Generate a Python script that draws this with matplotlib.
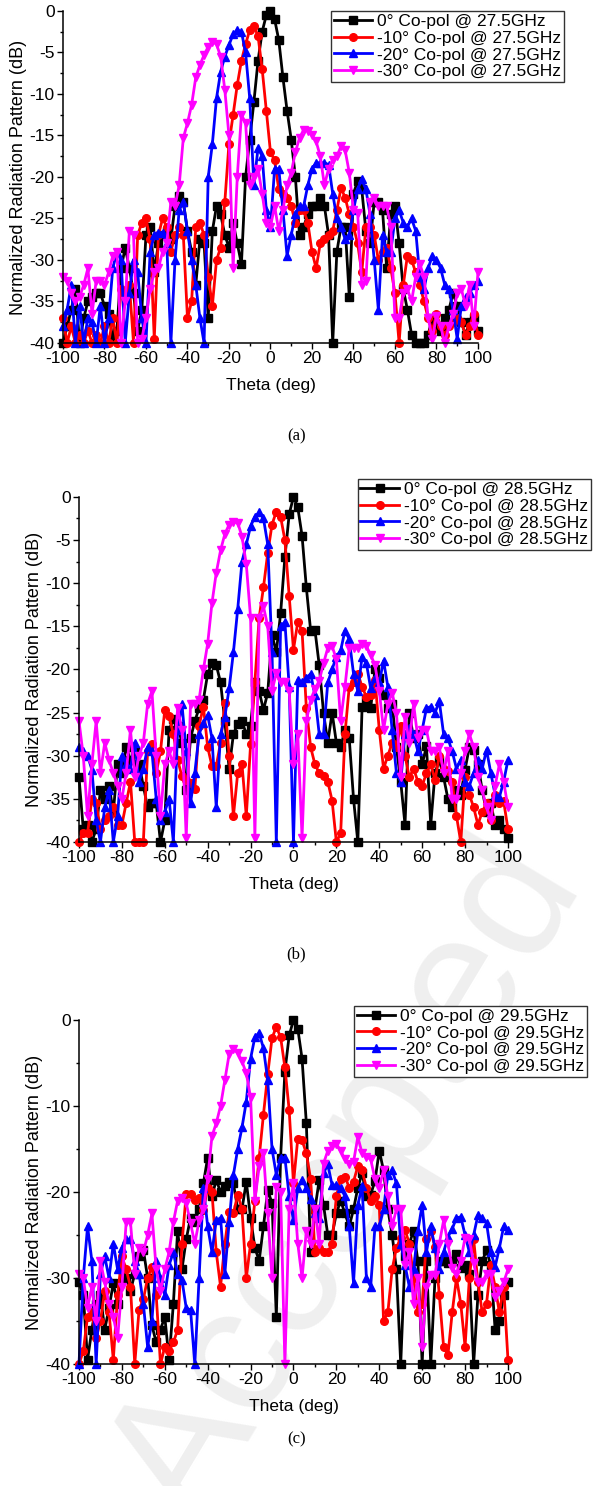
import numpy as np
import matplotlib
matplotlib.use('Agg')
import matplotlib.pyplot as plt
from matplotlib.ticker import MultipleLocator

plt.rcParams['font.family'] = ['Liberation Sans', 'DejaVu Sans']
plt.rcParams['axes.unicode_minus'] = False

theta = np.arange(-100, 101, 2)

# ---- 27.5 GHz ----
a_0 = [-40, -38, -36, -33.5, -40, -37, -35, -34.5, -34, -34,
       -35.5, -36.5, -39.5, -38.5, -31, -28.5, -31, -34, -38.5, -36,
       -27, -26, -31.5, -28, -27, -26.5, -27.5, -23.5, -22.3, -23,
       -26.5, -29, -33, -27.5, -28, -37, -26.5, -23.5, -24.5, -27,
       -28.5, -25.5, -28, -30.5, -20, -15.5, -11, -6, -2.5, -0.5,
       0,
       -1, -3.5, -8, -12, -15.5, -20, -27, -26, -24.5, -23.5,
       -23.5, -22.5, -23.5, -27, -40, -29, -26, -26, -34.5, -22,
       -20.5, -21.5, -26.5, -28, -23, -23, -24, -31, -24.5, -23.5,
       -28, -33.5, -36, -39, -40, -40, -40, -39, -37, -38,
       -38.5, -37, -36, -34, -35.5, -37.5, -39, -37.5, -37, -38.5]
a_10 = [-37, -40, -38, -40, -39, -40, -38.5, -40, -39, -40,
        -38, -40, -37, -40, -33.5, -34, -33, -40, -27, -25.5,
        -25, -27.5, -39.5, -27, -25, -26, -29, -27, -26, -27,
        -37, -35, -26, -25.5, -27, -32, -35.5, -30, -28.5, -23,
        -16, -12.5, -8.9, -6, -4, -2.3, -1.8, -3, -7, -12,
        -17,
        -18, -21.5, -22, -22.5, -23.5, -25.5, -24, -24, -25.5, -29,
        -31, -28, -27.5, -27, -26.5, -24, -21.3, -22.5, -24.5, -26,
        -28, -31.5, -26, -26, -27, -30, -29, -28.5, -31, -34,
        -40, -33, -29.5, -30, -31.5, -33, -35, -37, -38.5, -36.5,
        -38, -39, -38, -37.5, -37, -37.5, -39, -38, -36.5, -39]
a_20 = [-38, -36, -33, -40, -35.5, -40, -37, -37.5, -40, -35.5,
        -40, -37, -31, -29, -30, -40, -34, -30, -31.5, -37,
        -40, -29, -27, -26.7, -26.7, -28, -40, -30, -24, -23,
        -26.5, -30, -33, -37, -40, -20, -16, -10.5, -7.3, -5.5,
        -4.1, -2.8, -2.3, -2.5, -5, -10.5, -21, -16.5, -17.5, -24,
        -26,
        -19, -19, -24, -29.5, -27, -24.5, -23.5, -23.5, -21, -19,
        -18.3, -18.3, -18.3, -18.5, -22, -25, -26, -27.5, -27, -24,
        -21.5, -20.3, -21.5, -24.5, -30, -36, -27, -29, -29, -25,
        -24, -25.5, -26, -25, -26.5, -32, -33.5, -31, -29.5, -30,
        -31, -33, -33.5, -36, -39.5, -35.5, -34.5, -34, -33, -32.5]
a_30 = [-32, -32.5, -34, -35, -34.5, -33, -31, -36.5, -32.5, -32.5,
        -33, -31.5, -29.5, -29, -40, -35, -26.5, -27, -40, -39.5,
        -37, -33.5, -31.5, -31, -29, -28, -23, -23.5, -21, -15.3,
        -13.5, -11.3, -8, -6.5, -5.3, -4.3, -3.7, -4, -5.5, -9.5,
        -15, -31, -20, -12.5, -13.5, -21, -20, -19, -22, -25.5,
        -26,
        -23.5, -26.5, -24, -21, -19.5, -17, -15.3, -14.3, -14.4, -15,
        -15.7, -17.5, -21, -19, -17.9, -17.5, -16.3, -16.8, -19.5, -24,
        -24.3, -33, -32.5, -23, -22.5, -23.5, -23.5, -23.5, -26, -37,
        -37, -34, -33.5, -35, -32, -30.5, -32, -37, -39.5, -36.8,
        -38, -40, -38, -36.5, -34, -33.5, -35.5, -33, -38, -31.5]

# ---- 28.5 GHz ----
b_0 = [-32.5, -38.5, -38, -40, -38.5, -34, -35, -33.5, -36.5, -31,
       -32, -29, -30.5, -29.5, -31, -33.5, -36, -35.5, -35.5, -40,
       -37.5, -27, -25.8, -26.5, -28.5, -34, -28, -26, -24.5, -23.5,
       -20.5, -19.2, -19.5, -21.5, -26, -31.5, -27.5, -26.3, -26, -27.5,
       -26.5, -21.5, -22.5, -24.7, -22.7, -16, -18, -13.5, -7, -2,
       0,
       -1.2, -4.5, -10.5, -15.5, -15.4, -19.5, -25, -28.5, -25, -28.5,
       -29, -27, -28, -35, -40, -24.3, -23.5, -24.5, -20, -21,
       -23, -24.5, -24, -29, -33, -38, -25, -28, -27.5, -31,
       -28.9, -38, -32, -30.5, -32.5, -35, -36, -34, -34.5, -31.6,
       -29, -29.3, -31, -34, -36.5, -35.5, -38, -37.5, -38.5, -39.5]
b_10 = [-40, -39, -39, -35, -35.5, -38.5, -37.5, -37, -36, -38,
        -38, -35.5, -33, -40, -40, -40, -29.5, -28.7, -32, -29.5,
        -24.7, -25.4, -27.5, -30.5, -32.4, -32.8, -33.2, -33.9, -26.5, -24.3,
        -29, -31.2, -31.2, -28.5, -23.9, -30, -37, -32, -31, -37,
        -28.7, -21.5, -14, -10.5, -6.5, -3.2, -1.7, -2.3, -5, -11.5,
        -17.7,
        -14.5, -15.5, -24.5, -29, -31, -32, -32.4, -33, -35.2, -40,
        -39, -27.5, -22, -21.5, -20.5, -22, -23.2, -23, -21.2, -27,
        -31.5, -30, -28.5, -29, -26.5, -30, -32.5, -31.5, -33, -33.5,
        -32, -31, -32.8, -30, -31.5, -31.8, -33, -37, -40, -32.5,
        -34.5, -36, -38, -36.5, -35.5, -37.5, -34.5, -35.5, -35.3, -38.5]
b_20 = [-29, -29.5, -30, -31.6, -37.5, -40, -36, -34, -40, -37,
        -30, -31, -31.5, -28.5, -33, -31.5, -29, -29.5, -35, -37.5,
        -36.5, -35, -40, -27, -24, -29.5, -35.5, -32, -27.5, -26.2,
        -25.3, -28, -36, -27.5, -25.5, -22.2, -18, -13, -7.5, -5.5,
        -3.4, -2.3, -1.8, -2.5, -5.5, -18, -40, -15, -14.5, -22,
        -40,
        -21.2, -21.5, -21, -20.5, -23, -27.5, -27.5, -21.5, -20, -18.5,
        -17.8, -15.5, -16.5, -20.5, -22.5, -18.5, -19.3, -22.2, -21, -21.5,
        -19, -22, -27, -32, -33, -27.5, -26.8, -27.5, -29.5, -27,
        -24.5, -24.3, -25, -23.7, -27.5, -28, -29.5, -31.5, -30.5, -33,
        -33.5, -32, -30.5, -31.5, -29.3, -32, -34.5, -34.8, -33, -30.5]
b_30 = [-26, -30, -37, -31, -26, -32, -28.5, -30.5, -32, -33.5,
        -35, -32, -27, -32.5, -30, -28.5, -24, -22.5, -30, -37,
        -31, -29.5, -31, -24.5, -27, -39.5, -24, -24, -23.5, -20,
        -17, -12.3, -8.8, -6.2, -4.3, -3.2, -2.9, -3, -4.6, -7.8,
        -14, -39.5, -14, -12.7, -15, -22.5, -20.4, -21.5, -21.5, -22.5,
        -31,
        -27.5, -39.5, -26, -23.5, -22.3, -21.3, -19.3, -17.5, -17.3, -18.8,
        -26, -22, -17.5, -17.5, -17.5, -17, -17.3, -18.3, -19.5, -22.5,
        -27, -24, -22.7, -25, -32.5, -25.5, -28.5, -24, -28, -27,
        -27, -29.5, -29.5, -29, -32, -29.5, -35, -35, -32, -29.5,
        -27.5, -29, -32.5, -34, -36, -37.5, -33.5, -31, -33, -36]

# ---- 29.5 GHz ----
c_0 = [-30.5, -32, -39.5, -36, -33, -32, -36, -33.5, -30.6, -33,
       -29, -30, -31.5, -29.5, -27.5, -26.7, -30, -35.5, -37.5, -36,
       -34.5, -39.5, -33, -24.5, -29, -25.5, -23, -23.5, -22, -19,
       -16, -20.5, -18.6, -20, -19.3, -18.8, -19, -22, -22, -18.8,
       -23, -26.5, -28, -24, -19.8, -21.3, -34.5, -16, -6, -1.8,
       0,
       -1, -4.5, -12, -27, -22, -18.6, -21.5, -25, -25, -22.5,
       -21, -22.5, -24, -22, -19.5, -17.8, -20.5, -20.3, -18.7, -15.2,
       -17.5, -22, -25, -29, -40, -27.5, -26, -24.5, -28, -40,
       -28, -40, -30, -28, -28, -28.3, -28, -27.2, -28.8, -28.5,
       -29.5, -40, -32, -28, -26.8, -28.5, -36, -35, -32, -30.5]
c_10 = [-40, -38.5, -34.5, -34, -37, -35, -31.5, -34, -39.5, -32,
        -27.5, -29, -31, -40, -33.7, -32.5, -30, -28.7, -32, -40,
        -38, -38.5, -37.5, -36, -26, -20.2, -20.2, -20.9, -20.7, -22.1,
        -19.5, -20, -27, -31, -26, -22.3, -22.5, -20.3, -22, -30,
        -26, -21, -16, -11, -6.3, -2.1, -0.8, -2, -5.5, -10.5,
        -19,
        -13.8, -14, -15.5, -18.5, -27, -26.5, -27, -27, -26, -20.5,
        -18.5, -18.2, -19.5, -18.8, -17, -17.5, -19.5, -21, -20.5, -21.5,
        -35, -34, -29, -26.5, -25.3, -24.4, -26, -30, -34, -33,
        -25.5, -24.5, -26.4, -32, -38, -39, -34, -30, -33, -38,
        -30, -25.5, -30.5, -34, -33, -28.5, -31, -34, -31, -39.5]
c_20 = [-40, -30, -24, -28, -40, -29.5, -27.5, -30, -26, -29,
        -26.5, -25.5, -25.5, -28, -29.5, -33, -38, -35, -28, -30,
        -32, -28.5, -27, -29.5, -30.2, -33.5, -33.7, -40, -30, -19.5,
        -24, -27, -23.3, -23, -29.5, -23.5, -18, -15, -12.5, -9.5,
        -4.5, -2, -1.5, -3.3, -7, -15, -18, -16, -16, -20.5,
        -23.3,
        -19.5, -18.6, -19.5, -20.8, -22.5, -23, -17.8, -16.8, -19.2, -19.2,
        -19.5, -20.5, -24, -30.6, -21.5, -19.3, -30, -31, -24, -24,
        -22, -18, -17.5, -19, -26, -28.5, -31, -29, -24.5, -21.5,
        -27, -24, -26.5, -29, -27, -25.2, -24.3, -23, -22.9, -25,
        -27, -25, -22.7, -23, -23.6, -27, -28.7, -26.5, -24, -24.4]
c_30 = [-29.5, -30, -33.5, -31, -35, -28, -30.5, -33, -34.5, -37,
        -31, -23.5, -23.5, -29.5, -26.5, -27, -25, -22.5, -29, -31.5,
        -29, -27, -23.5, -21, -20.7, -21.3, -23.6, -26, -23.3, -22,
        -18.5, -13.5, -12, -10, -7, -4, -3.4, -3.8, -4.8, -6.2,
        -9, -21, -17, -15.5, -22.5, -30, -19.4, -20, -40, -22,
        -19,
        -26, -30, -24.5, -26, -22, -26, -16.7, -15.2, -14.7, -14.4,
        -15.2, -16.2, -16.8, -16.5, -13.6, -15.5, -15.9, -16.2, -18.5, -19.5,
        -17.4, -20.5, -24, -22, -22, -28.5, -27, -33, -30, -38,
        -31, -29.6, -29.7, -26, -23.3, -26, -28.8, -29.5, -28, -25.3,
        -25.5, -28.3, -30.5, -30.5, -29.5, -29.5, -32.2, -31.5, -30.5, -29]

angles = ['0°', '-10°', '-20°', '-30°']
colors = ['#000000', '#ff0000', '#0000ff', '#ff00ff']
markers = ['s', 'o', '^', 'v']

panels = [
    ([a_0, a_10, a_20, a_30], '27.5GHz', [0.1062, 0.7692, 0.6998, 0.2234], 5, (0.646, 1.0), '(a)', 0.7039),
    ([b_0, b_10, b_20, b_30], '28.5GHz', [0.1332, 0.4334, 0.7234, 0.2322], 5, (0.650, 1.052), '(b)', 0.3553),
    ([c_0, c_10, c_20, c_30], '29.5GHz', [0.1332, 0.0821, 0.7234, 0.2315], 10, (0.641, 1.041), '(c)', 0.0289),
]

fig = plt.figure(figsize=(5.93, 14.86), dpi=100)

# faint watermark behind the plots (runs off the page edge, as in the original)
fig.text(0.985, 0.405, 'Accepted', fontsize=130, color='#efefef', rotation=59,
         ha='right', va='baseline', rotation_mode='anchor', zorder=-5)

for series, freq, pos, ystep, leg_pos, cap, cap_y in panels:
    ax = fig.add_axes(pos)
    ax.set_facecolor('none')
    for vals, ang, col, mk in zip(series, angles, colors, markers):
        ax.plot(theta, vals, color=col, marker=mk, markersize=5.5, linewidth=2.0,
                label=f'{ang} Co-pol @ {freq}', clip_on=False)
    ax.set_xlim(-100, 100)
    ax.set_ylim(-40, 0)
    ax.xaxis.set_major_locator(MultipleLocator(20))
    ax.xaxis.set_minor_locator(MultipleLocator(10))
    ax.yaxis.set_major_locator(MultipleLocator(ystep))
    ax.yaxis.set_minor_locator(MultipleLocator(ystep / 2))
    ax.spines['top'].set_visible(False)
    ax.spines['right'].set_visible(False)
    for s in ['left', 'bottom']:
        ax.spines[s].set_linewidth(1.1)
    ax.tick_params(which='major', direction='out', length=4, width=1, labelsize=12.5, pad=2)
    ax.tick_params(which='minor', direction='out', length=2.5, width=1)
    ax.set_xlabel('Theta (deg)', fontsize=12.5, labelpad=8.5)
    ax.set_ylabel('Normalized Radiation Pattern (dB)', fontsize=13, labelpad=2)
    leg = ax.legend(loc='upper left', bbox_to_anchor=leg_pos, borderaxespad=0,
                    fontsize=12.5, handlelength=2.2, handletextpad=0.3,
                    labelspacing=0.1, borderpad=0.15, fancybox=False,
                    framealpha=1, edgecolor='#333333')
    leg.get_frame().set_linewidth(1.0)
    fig.text(0.5, cap_y, cap, fontsize=12, family='Liberation Serif', ha='center')

fig.savefig('out.png', dpi=100)
